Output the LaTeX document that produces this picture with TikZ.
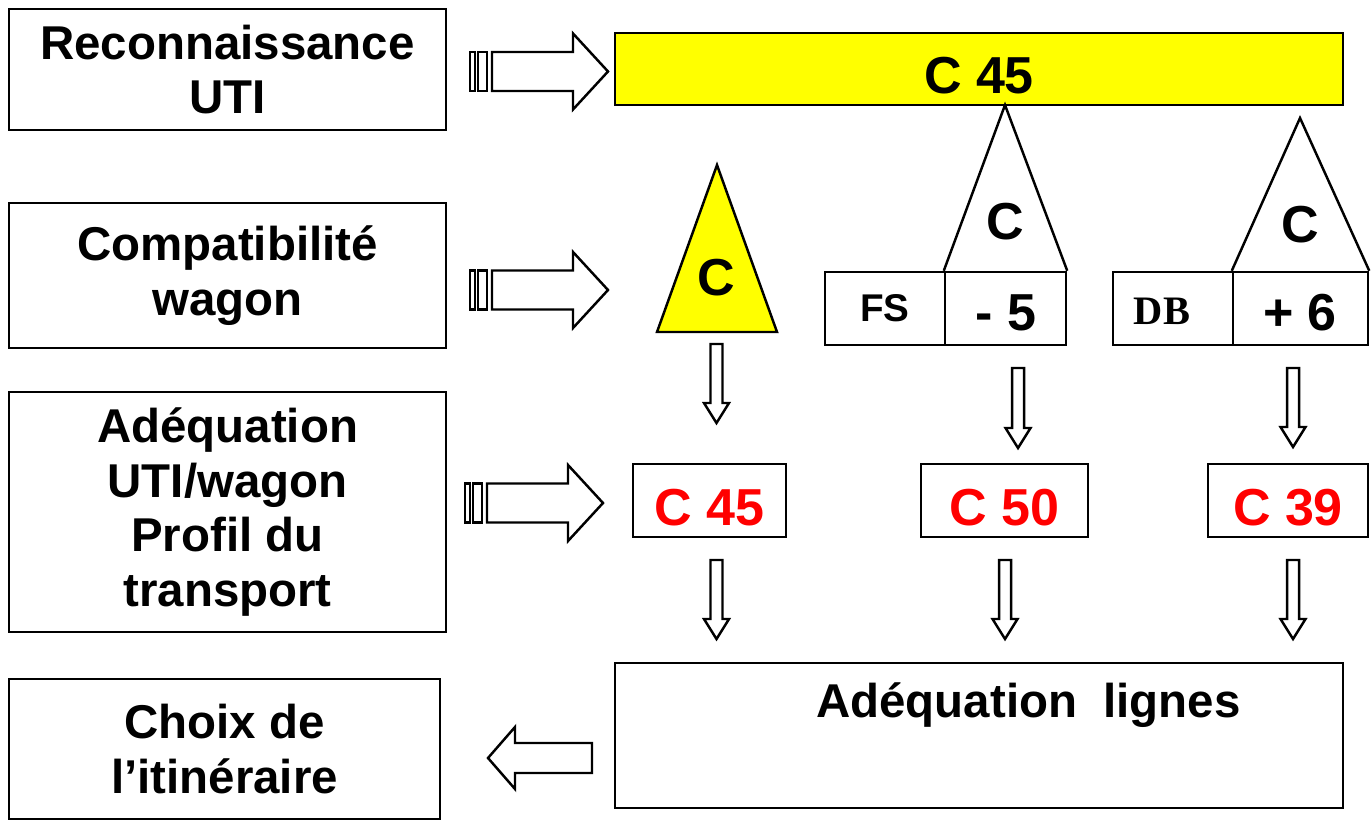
\documentclass[tikz,border=0pt]{standalone}
\usepackage{fontspec}
\setmainfont{Liberation Sans}
\newfontfamily\serifbold{Liberation Serif}
\definecolor{jaune}{RGB}{255,255,0}
\definecolor{rouge}{RGB}{255,0,0}
% hollow block arrows: centre x, top y, tip y / left x, centre y
\newcommand{\dnarrow}[3]{%
  \draw[line width=0.7pt] (#1-0.06,#2) -- (#1+0.06,#2) -- (#1+0.06,#3+0.20) -- (#1+0.125,#3+0.20) -- (#1,#3) -- (#1-0.125,#3+0.20) -- (#1-0.06,#3+0.20) -- cycle;}
\newcommand{\stripearrow}[2]{%
  \draw[line width=0.7pt] (#1,#2-0.195) rectangle (#1+0.05,#2+0.195);
  \draw[line width=0.7pt] (#1+0.08,#2-0.195) rectangle (#1+0.17,#2+0.195);
  \draw[line width=0.7pt] (#1+0.22,#2-0.195) -- (#1+1.03,#2-0.195) -- (#1+1.03,#2-0.38) -- (#1+1.38,#2) -- (#1+1.03,#2+0.38) -- (#1+1.03,#2+0.195) -- (#1+0.22,#2+0.195) -- cycle;}

\begin{document}
\begin{tikzpicture}[line join=miter,x=1.0cm,y=1.0cm,
    box/.style={draw,line width=0.7pt,inner sep=0pt,align=center,font=\fontsize{13.5}{15.6}\selectfont\bfseries},
    redbox/.style={box,text=rouge,text height=0.49cm,text depth=0pt,font=\fontsize{14.8}{16}\selectfont\bfseries},
    big/.style={font=\fontsize{14.8}{16}\selectfont\bfseries},
    small/.style={font=\fontsize{11}{12}\selectfont\bfseries}]
	\useasboundingbox (0,0) rectangle (13.72,-8.20);
	% left column
	\node[box,minimum width=4.37cm,minimum height=1.21cm] (reco) at (2.275,-0.695) {Reconnaissance\\UTI};
	\node[box,minimum width=4.37cm,minimum height=1.45cm] (compat) at (2.275,-2.755) {Compatibilité\\wagon};
	\node[box,minimum width=4.37cm,minimum height=2.40cm] (adeq) at (2.275,-5.12) {Adéquation\\UTI/wagon\\Profil du\\transport};
	\node[box,minimum width=4.31cm,minimum height=1.40cm] (choix) at (2.245,-7.49) {Choix de\\l’itinéraire};
	% C 45 bar
	\node[box,big,fill=jaune,text height=0.49cm,text depth=0pt,minimum width=7.28cm,minimum height=0.72cm] (barre) at (9.79,-0.69) {C 45};
	\stripearrow{4.70}{-0.715}
	\stripearrow{4.70}{-2.90}
	\stripearrow{4.65}{-5.03}
	% triangles
	\draw[line width=0.7pt,fill=jaune] (6.57,-3.32) -- (7.17,-1.65) -- (7.77,-3.32) -- cycle;
	\node[big] (cjaune) at (7.16,-2.78) {C};
	\node[box,minimum width=1.20cm,minimum height=0.73cm] (fs) at (8.85,-3.085) {};
	\node[box,minimum width=1.21cm,minimum height=0.73cm] (moins) at (10.055,-3.085) {};
	\draw[line width=0.7pt] (moins.north west) -- (10.05,-1.05) -- (moins.north east);
	\node[big] (cfs) at (10.05,-2.22) {C};
	\node[small] (fstxt) at (fs.center) {FS};
	\node[big] (moinstxt) at (10.06,-3.13) {- 5};
	\node[box,minimum width=1.20cm,minimum height=0.73cm] (db) at (11.73,-3.085) {};
	\node[box,minimum width=1.35cm,minimum height=0.73cm] (plus) at (13.005,-3.085) {};
	\draw[line width=0.7pt] (plus.north west) -- (13.00,-1.18) -- (plus.north east);
	\node[big] (cdb) at (13.00,-2.25) {C};
	\node[font=\fontsize{11.5}{12}\selectfont\serifbold\bfseries] (dbtxt) at (11.62,-3.11) {DB};
	\node[big] (plustxt) at (13.00,-3.13) {+ 6};
	% results
	\dnarrow{7.165}{-3.44}{-4.23}
	\dnarrow{10.18}{-3.68}{-4.48}
	\dnarrow{12.93}{-3.68}{-4.47}
	\node[redbox,minimum width=1.53cm,minimum height=0.73cm] (r45) at (7.095,-5.005) {C 45};
	\node[redbox,minimum width=1.67cm,minimum height=0.73cm] (r50) at (10.045,-5.005) {C 50};
	\node[redbox,minimum width=1.60cm,minimum height=0.73cm] (r39) at (12.88,-5.005) {C 39};
	\dnarrow{7.165}{-5.60}{-6.39}
	\dnarrow{10.05}{-5.60}{-6.39}
	\dnarrow{12.93}{-5.60}{-6.39}
	% lines
	\node[box,minimum width=7.28cm,minimum height=1.45cm] (lignes) at (9.79,-7.355) {};
	\node[font=\fontsize{13.5}{15.6}\selectfont\bfseries] (lignestxt) at (10.285,-7.05) {Adéquation~~lignes};
	\draw[line width=0.7pt] (4.88,-7.58) -- (5.15,-7.27) -- (5.15,-7.43) -- (5.92,-7.43) -- (5.92,-7.73) -- (5.15,-7.73) -- (5.15,-7.89) -- cycle;
\end{tikzpicture}
\end{document}
